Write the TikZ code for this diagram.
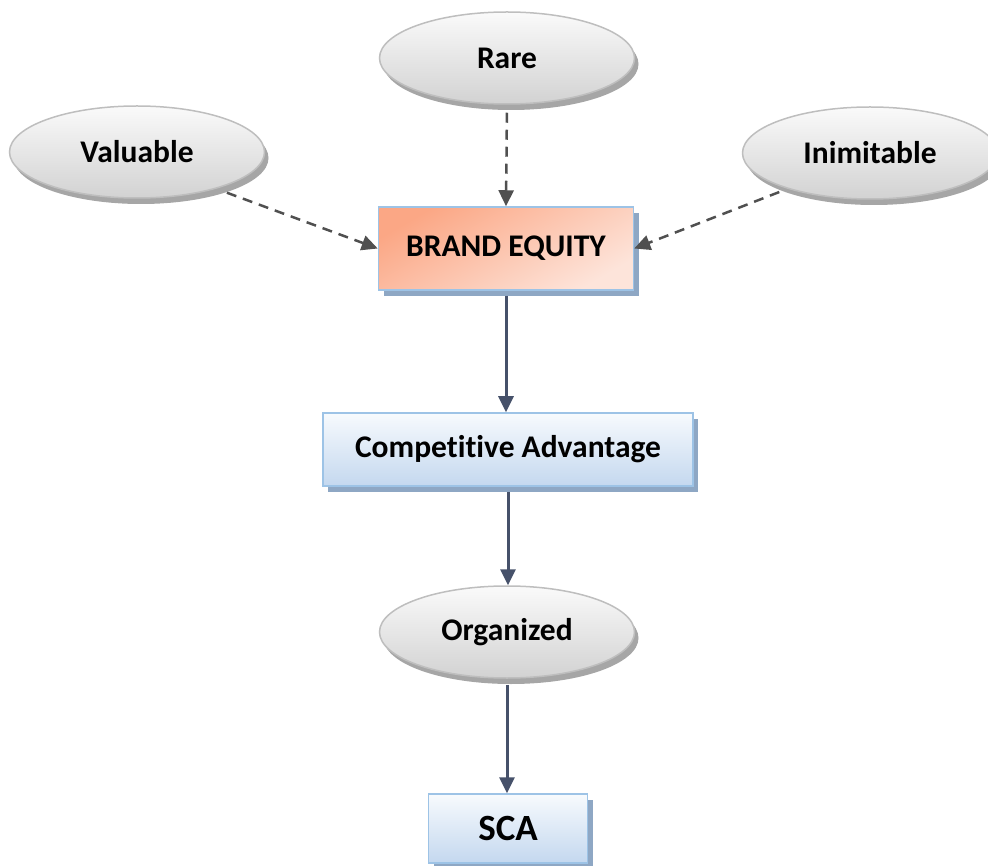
\documentclass[tikz,border=0pt]{standalone}
\usepackage{fontspec}
\setmainfont{Carlito}[Ligatures=NoCommon]
\usetikzlibrary{shapes.geometric,shadows,arrows.meta}
\definecolor{ovaltop}{HTML}{FAFAFA}
\definecolor{ovalbot}{HTML}{D2D2D2}
\definecolor{ovalline}{HTML}{BEBEBE}
\definecolor{ovalshade}{HTML}{A6A6A6}
\definecolor{boxtop}{HTML}{F7FAFD}
\definecolor{boxbot}{HTML}{C4D8EF}
\definecolor{boxline}{HTML}{9DC3E6}
\definecolor{boxshade}{HTML}{8EA7C4}
\definecolor{eqtop}{HTML}{FBA785}
\definecolor{eqbot}{HTML}{FDE4DA}
\definecolor{dashink}{HTML}{505050}
\definecolor{flowink}{HTML}{46516A}
\tikzset{
  oval/.style={ellipse, draw=ovalline, line width=1.5pt,
    top color=ovaltop, bottom color=ovalbot,
    minimum width=255pt, minimum height=92pt, inner sep=0pt,
    general shadow={fill=ovalshade, shadow xshift=4pt, shadow yshift=-6pt},
    font=\fontsize{31.5}{34}\selectfont\bfseries},
  flowbox/.style={rectangle, draw=boxline, line width=1.5pt,
    top color=boxtop, bottom color=boxbot, inner sep=0pt,
    general shadow={fill=boxshade, shadow xshift=5pt, shadow yshift=-6pt},
    font=\fontsize{31.5}{34}\selectfont\bfseries},
  equitybox/.style={flowbox, top color=eqtop, bottom color=eqbot, shading angle=30},
  dasharrow/.style={draw=dashink, line width=2.5pt, dash pattern=on 10pt off 7pt,
    -{Triangle[length=16pt,width=15pt]}},
  flowarrow/.style={draw=flowink, line width=3pt,
    -{Triangle[length=16pt,width=15pt]}}
}
\begin{document}
\begin{tikzpicture}[x=1pt,y=-1pt]
  \useasboundingbox (0,0) rectangle (988,866);
  \clip (0,0) rectangle (988,866);
  % factors feeding into brand equity
  \node[oval] (rare) at (507,58) {Rare};
  \node[oval] (val) at (137,152) {Valuable};
  \node[oval] (inim) at (870,153) {Inimitable};
  % main chain
  \node[equitybox, minimum width=255pt, minimum height=83pt] (be) at (506,248.5) {BRAND EQUITY};
  \node[flowbox, minimum width=370pt, minimum height=73pt] (ca) at (508,449.5) {Competitive Advantage};
  \node[oval] (org) at (507,632) {Organized};
  \node[flowbox, minimum width=159pt, minimum height=69pt] (sca) at (508,828.5) {\fontsize{37}{40}\selectfont SCA};
  % dashed influences
  \draw[dasharrow, shorten <=8pt] (rare.south) -- (be.north);
  \draw[dasharrow] ([shift={(4,6)}]val.-22) -- (be.west);
  \draw[dasharrow] ([shift={(0,6)}]inim.200) -- (be.east);
  % solid flow
  \draw[flowarrow, shorten <=5pt] (be.south) -- (be.south |- ca.north);
  \draw[flowarrow, shorten <=5pt] (ca.south) -- (ca.south |- org.north);
  \draw[flowarrow, shorten <=6pt] (org.south) -- (org.south |- sca.north);
\end{tikzpicture}
\end{document}
